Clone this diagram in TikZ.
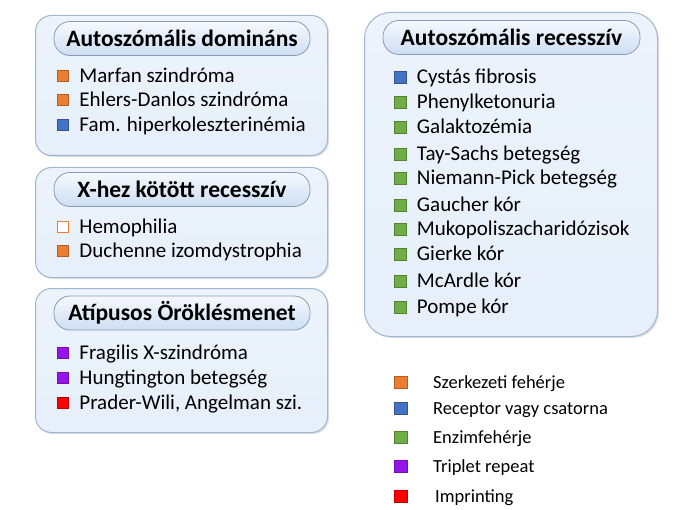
\documentclass[tikz,border=0pt]{standalone}
\usepackage{fontspec}
\setmainfont{Carlito}
\usetikzlibrary{positioning,shadows}

\definecolor{szerk}{RGB}{237,125,49}
\definecolor{recep}{RGB}{68,114,196}
\definecolor{enzim}{RGB}{112,173,71}
\definecolor{tripl}{RGB}{150,20,235}
\definecolor{impr}{RGB}{255,0,0}
\definecolor{panelline}{RGB}{160,182,212}
\definecolor{panelfill}{RGB}{230,239,250}
\definecolor{pillline}{RGB}{135,155,185}
\definecolor{pilltop}{RGB}{246,249,254}
\definecolor{pillbot}{RGB}{205,222,242}

\tikzset{
  panel/.style={draw=panelline, line width=1pt, top color=panelfill!75!white, bottom color=panelfill,
    rounded corners=16pt, anchor=north west, inner sep=0pt,
    drop shadow={shadow xshift=1.5pt, shadow yshift=-1.5pt, opacity=0.25}},
  pill/.style={draw=pillline, line width=0.8pt, top color=pilltop, bottom color=pillbot,
    rounded corners=16pt, minimum width=256pt, minimum height=34pt, inner sep=0pt,
    font=\bfseries\fontsize{23.5}{23.5}\selectfont},
  sq/.style={minimum size=11pt, inner sep=0pt, draw=#1!75!black, line width=0.5pt, fill=#1},
  item/.style={inner sep=0pt, text height=14pt, text depth=1pt, font=\fontsize{21}{21}\selectfont},
  key/.style={inner sep=0pt, text height=12pt, text depth=0pt, font=\fontsize{18.5}{18.5}\selectfont},
}

\begin{document}
\begin{tikzpicture}[x=1pt,y=-1pt]
\useasboundingbox (0,0) rectangle (684,510);

% the four panels
\node[panel, minimum width=292pt, minimum height=140pt] (ad) at (35,15) {};
\node[panel, minimum width=292pt, minimum height=110pt] (xr) at (35,167) {};
\node[panel, minimum width=292pt, minimum height=144pt] (at) at (35,288) {};
\node[panel, minimum width=293pt, minimum height=324pt, rounded corners=26pt] (ar) at (364,12) {};

% headers
\node[pill] (adhead) at (182,38.5) {Autoszómális domináns};
\node[pill] (xrhead) at (182,189.5) {X-hez kötött recesszív};
\node[pill] (athead) at (182,313) {Atípusos Öröklésmenet};
\node[pill, minimum width=257pt] (arhead) at (511.5,37.5) {Autoszómális recesszív};

% autoszomalis dominans
\node[sq=szerk] (s1) at (62.5,76) {};
\node[item, right=11pt of s1] (marfan) {Marfan szindróma};
\node[sq=szerk] (s2) at (62.5,100) {};
\node[item, right=11pt of s2] (ehlers) {Ehlers-Danlos szindróma};
\node[sq=recep] (s3) at (62.5,125) {};
\node[item, right=11pt of s3] (fam) {Fam. hiperkoleszterinémia};

% x-hez kotott
\node[sq=white, draw=szerk] (s4) at (62.5,227) {};
\node[item, right=11pt of s4] (hemo) {Hemophilia};
\node[sq=szerk] (s5) at (62.5,251) {};
\node[item, right=11pt of s5] (duch) {Duchenne izomdystrophia};

% atipusos
\node[sq=tripl] (s6) at (62.5,353) {};
\node[item, right=11pt of s6] (fragx) {Fragilis X-szindróma};
\node[sq=tripl] (s7) at (62.5,378) {};
\node[item, right=11pt of s7] (hung) {Hungtington betegség};
\node[sq=impr] (s8) at (62.5,403) {};
\node[item, right=11pt of s8] (prader) {Prader-Wili, Angelman szi.};

% autoszomalis recessziv
\node[sq=recep, minimum size=12pt] (r1) at (400.5,77) {};
\node[item, right=10pt of r1] (cf) {Cystás fibrosis};
\node[sq=enzim, minimum size=12pt] (r2) at (400.5,102) {};
\node[item, right=10pt of r2] (pku) {Phenylketonuria};
\node[sq=enzim, minimum size=12pt] (r3) at (400.5,127) {};
\node[item, right=10pt of r3] (galak) {Galaktozémia};
\node[sq=enzim, minimum size=12pt] (r4) at (400.5,154) {};
\node[item, right=10pt of r4] (tay) {Tay-Sachs betegség};
\node[sq=enzim, minimum size=12pt] (r5) at (400.5,178) {};
\node[item, right=10pt of r5] (niem) {Niemann-Pick betegség};
\node[sq=enzim, minimum size=12pt] (r6) at (400.5,205) {};
\node[item, right=10pt of r6] (gauch) {Gaucher kór};
\node[sq=enzim, minimum size=12pt] (r7) at (400.5,229) {};
\node[item, right=10pt of r7] (muko) {Mukopoliszacharidózisok};
\node[sq=enzim, minimum size=12pt] (r8) at (400.5,254) {};
\node[item, right=10pt of r8] (gierke) {Gierke kór};
\node[sq=enzim, minimum size=12pt] (r9) at (400.5,281) {};
\node[item, right=10pt of r9] (mcard) {McArdle kór};
\node[sq=enzim, minimum size=12pt] (r10) at (400.5,307) {};
\node[item, right=10pt of r10] (pompe) {Pompe kór};

% legend
\node[sq=szerk, minimum size=12.5pt] (k1) at (400.5,382) {};
\node[key, right=26pt of k1] (kszerk) {Szerkezeti fehérje};
\node[sq=recep, minimum size=12.5pt] (k2) at (400.5,408) {};
\node[key, right=26pt of k2] (krecep) {Receptor vagy csatorna};
\node[sq=enzim, minimum size=12.5pt] (k3) at (400.5,437) {};
\node[key, right=26pt of k3] (kenzim) {Enzimfehérje};
\node[sq=tripl, minimum size=12.5pt] (k4) at (400.5,466) {};
\node[key, right=26pt of k4] (ktripl) {Triplet repeat};
\node[sq=impr, minimum size=12.5pt] (k5) at (400.5,496) {};
\node[key, right=28pt of k5] (kimpr) {Imprinting};
\end{tikzpicture}
\end{document}
